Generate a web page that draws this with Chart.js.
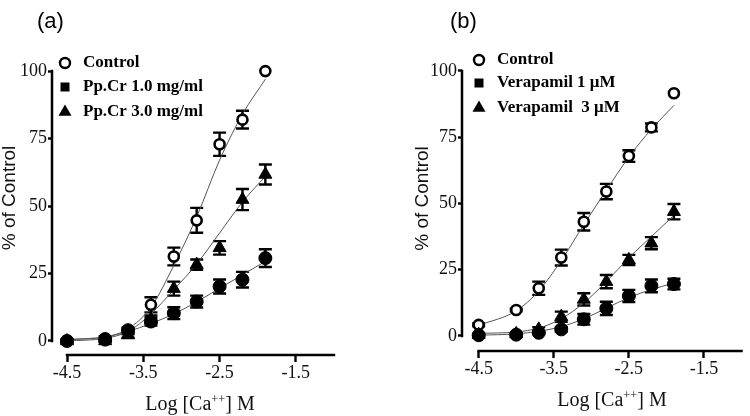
<!DOCTYPE html>
<html><head><meta charset="utf-8">
<script src="https://cdn.jsdelivr.net/npm/chart.js@4.4.1/dist/chart.umd.min.js"></script>
<style>
html,body{margin:0;padding:0;background:#fff;}
#wrap{position:relative;width:750px;height:416px;overflow:hidden;background:#fff;}
canvas{position:absolute;top:0;}
.ptitle{position:absolute;font-family:'Liberation Sans',Arial,sans-serif;font-size:22px;line-height:22px;color:#000;white-space:nowrap;}
.xtitle{position:absolute;width:200px;text-align:center;font-family:'Liberation Serif','Times New Roman',serif;font-size:20px;line-height:20px;color:#111;white-space:nowrap;}
.xtitle sup{font-size:0.62em;line-height:0;vertical-align:0.55em;}
</style></head>
<body><div id="wrap">
<canvas id="ca" width="375" height="416" style="left:0px"></canvas>
<canvas id="cb" width="375" height="416" style="left:375px"></canvas>
<div class="ptitle" style="left:37px;top:10px">(a)</div>
<div class="ptitle" style="left:450px;top:10px">(b)</div>
<div class="xtitle" style="left:100px;top:393px">Log [Ca<sup>++</sup>] M</div>
<div class="xtitle" style="left:512px;top:389px">Log [Ca<sup>++</sup>] M</div>
</div>
<script>
// ---------- data ----------
const logCa = [-4.5, -4.0, -3.7, -3.4, -3.1, -2.8, -2.5, -2.2, -1.9];
const xTickValues = [-4.5, -3.5, -2.5, -1.5];
const yTickValues = [0, 25, 50, 75, 100];
const xAxisSpan = [-4.5, -1.0];
const yAxisSpan = [0, 100];
const yAxisTitle = '% of Control';

// Panel (a)
const aLabels = ['Control', 'Pp.Cr 1.0 mg/ml', 'Pp.Cr 3.0 mg/ml'];
const aControl    = [0, 1, 3.5, 13.4, 31.3, 44.7, 72.9, 82, 100];
const aControlErr = [0.5, 0.8, 1, 2.8, 3.3, 4.6, 4.3, 3.3, 0];
const aControlFit = [0.5, 1.5, 4.5, 12.5, 28, 46, 67, 84, 97];
const aPp1    = [0, 0.5, 4, 7.2, 10.3, 14.6, 20.2, 22.7, 30.7];
const aPp1Err = [0.5, 0.8, 1, 1.5, 2.2, 2.2, 2.6, 2.9, 3.3];
const aPp1Fit = [0.5, 1.5, 3.5, 6.5, 10, 14.5, 19.5, 24.5, 29.5];
const aPp3    = [0, 0, 2.2, 8, 19.4, 28.3, 34.5, 52.4, 61.7];
const aPp3Err = [0.5, 0.5, 1, 1.5, 2.6, 1.9, 2.5, 3.9, 3.7];
const aPp3Fit = [0, 1, 3.5, 10, 19, 28.5, 40, 51.5, 61];

// Panel (b)
const bLabels = ['Control', 'Verapamil 1 \u03BCM', 'Verapamil  3 \u03BCM'];
const bControl    = [4.2, 9.8, 18, 29.6, 43.1, 54.5, 67.9, 78.7, 91.6];
const bControlErr = [0.5, 0.5, 2.5, 3, 3.3, 2.9, 2.2, 1.5, 0];
const bControlFit = [4, 9.5, 17, 28.5, 42, 55, 67.5, 78, 87];
const bVer1    = [0.3, 0.5, 1.2, 2.5, 6.3, 10.4, 15.1, 18.9, 19.6];
const bVer1Err = [0.3, 0.3, 0.5, 0.8, 2, 2.5, 2.3, 2.4, 2];
const bVer1Fit = [0.3, 0.8, 1.8, 3.5, 6.5, 10.5, 14.5, 17.5, 20];
const bVer3    = [0.5, 0.8, 2.5, 7.3, 13.8, 20.5, 28.7, 35, 46.9];
const bVer3Err = [0.3, 0.3, 0.8, 1.9, 2.3, 2.5, 1.9, 2.3, 2.9];
const bVer3Fit = [1, 1.5, 3, 6.5, 12.5, 20.5, 29.5, 37.5, 45.5];

// ---------- helpers ----------
const SERIF = "'Liberation Serif','Times New Roman',serif";
const SANS = "'Liberation Sans',Arial,sans-serif";
const pts = arr => logCa.map((x, i) => ({x: x, y: arr[i]}));

const markerStyles = [
  {pointStyle: 'circle', radius: 5, bg: '#ffffff', bw: 2.6},
  {pointStyle: 'circle', radius: 6.5, bg: '#000000', bw: 1},
  {pointStyle: 'triangle', radius: 7.5, bg: '#000000', bw: 1}
];

function drawMarker(ctx, style, x, y, r, fill, bw) {
  ctx.save();
  ctx.fillStyle = fill; ctx.strokeStyle = '#000'; ctx.lineWidth = bw;
  ctx.beginPath();
  if (style === 'circle') {
    ctx.arc(x, y, r, 0, Math.PI * 2);
  } else if (style === 'rect') {
    ctx.rect(x - r, y - r, 2 * r, 2 * r);
  } else if (style === 'triangle') {
    ctx.moveTo(x, y - r);
    ctx.lineTo(x + r * 0.866, y + r * 0.5);
    ctx.lineTo(x - r * 0.866, y + r * 0.5);
    ctx.closePath();
  }
  ctx.fill();
  if (bw > 0) ctx.stroke();
  ctx.restore();
}

const axisLines = {
  id: 'axisLines',
  beforeDatasetsDraw(chart) {
    const {ctx, chartArea, scales: {x, y}} = chart;
    ctx.save();
    ctx.strokeStyle = '#000'; ctx.lineWidth = 2.5; ctx.lineCap = 'square';
    ctx.beginPath();
    ctx.moveTo(chartArea.left, y.getPixelForValue(yAxisSpan[0]));
    ctx.lineTo(chartArea.left, y.getPixelForValue(yAxisSpan[1]));
    ctx.moveTo(x.getPixelForValue(xAxisSpan[0]), chartArea.bottom);
    ctx.lineTo(x.getPixelForValue(xAxisSpan[1]), chartArea.bottom);
    ctx.stroke();
    ctx.restore();
  }
};

const errorBars = {
  id: 'errorBars',
  beforeDatasetsDraw(chart) {
    const {ctx, scales: {x, y}} = chart;
    ctx.save();
    ctx.strokeStyle = '#000'; ctx.lineWidth = 2.4;
    chart.data.datasets.forEach(ds => {
      if (!ds.errorBars) return;
      ds.data.forEach((p, i) => {
        const e = ds.errorBars[i];
        if (!e) return;
        const px = x.getPixelForValue(p.x);
        const yt = y.getPixelForValue(p.y + e);
        const yb = y.getPixelForValue(p.y - e);
        ctx.beginPath();
        ctx.moveTo(px, yt); ctx.lineTo(px, yb);
        ctx.moveTo(px - 6.5, yt); ctx.lineTo(px + 6.5, yt);
        ctx.moveTo(px - 6.5, yb); ctx.lineTo(px + 6.5, yb);
        ctx.stroke();
      });
    });
    ctx.restore();
  }
};

const panelLegend = {
  id: 'panelLegend',
  afterDraw(chart, args, opts) {
    const ctx = chart.ctx;
    ctx.save();
    ctx.font = 'bold 17px ' + SERIF;
    ctx.textBaseline = 'middle';
    ctx.textAlign = 'left';
    ctx.fillStyle = '#000';
    opts.items.forEach((it, i) => {
      const yy = opts.rows[i];
      drawMarker(ctx, it.style, opts.x, yy, it.r, it.fill, it.bw);
      ctx.fillStyle = '#000';
      ctx.fillText(it.label, opts.textX, yy);
    });
    ctx.restore();
  }
};

function seriesSets(labels, values, errs, fits, layerOrder) {
  const sets = [];
  labels.forEach((lab, k) => {
    const st = markerStyles[k];
    sets.push({
      label: lab,
      data: pts(values[k]),
      errorBars: errs[k],
      showLine: false,
      order: layerOrder[k],
      pointStyle: st.pointStyle,
      pointRadius: st.radius,
      pointHoverRadius: st.radius,
      pointBackgroundColor: st.bg,
      pointBorderColor: '#000',
      pointBorderWidth: st.bw,
      clip: false
    });
    sets.push({
      label: lab + ' fit',
      data: pts(fits[k]),
      showLine: true,
      order: 10,
      borderColor: '#555',
      borderWidth: 1,
      pointRadius: 0,
      cubicInterpolationMode: 'monotone',
      clip: false
    });
  });
  return sets;
}

function makeChart(id, cfg) {
  return new Chart(document.getElementById(id), {
    type: 'line',
    data: {datasets: cfg.datasets},
    options: {
      responsive: false,
      animation: false,
      events: [],
      layout: {padding: cfg.padding},
      plugins: {
        legend: {display: false},
        tooltip: {enabled: false},
        panelLegend: cfg.legend
      },
      scales: {
        x: {
          type: 'linear', min: cfg.xMin, max: cfg.xMax,
          afterBuildTicks: s => { s.ticks = xTickValues.map(v => ({value: v})); },
          afterFit: s => { s.height = 30; },
          grid: {drawOnChartArea: false, drawTicks: true, tickLength: 7, tickWidth: 2.4, tickColor: '#000'},
          border: {display: false},
          ticks: {autoSkip: false, maxRotation: 0, minRotation: 0, padding: 0, color: '#111',
                  font: {family: SERIF, size: 18}, callback: v => Number(v).toFixed(1)}
        },
        y: {
          type: 'linear', min: cfg.yMin, max: cfg.yMax,
          afterBuildTicks: s => { s.ticks = yTickValues.map(v => ({value: v})); },
          afterFit: s => { s.width = cfg.yWidth; },
          grid: {drawOnChartArea: false, drawTicks: true, tickLength: 4, tickWidth: 2.4, tickColor: '#000'},
          border: {display: false},
          ticks: {autoSkip: false, padding: 1, color: '#111',
                  font: {family: SERIF, size: 18}, callback: v => String(v)},
          title: {display: true, text: yAxisTitle, color: '#111', padding: 0,
                  font: {family: SANS, size: 19, lineHeight: 1.05}}
        }
      }
    },
    plugins: [axisLines, errorBars, panelLegend]
  });
}

const legendStyles = [
  {style: 'circle', r: 5, fill: '#fff', bw: 2.4},
  {style: 'rect', r: 4.5, fill: '#000', bw: 0},
  {style: 'triangle', r: 7.5, fill: '#000', bw: 0}
];

makeChart('ca', {
  datasets: seriesSets(aLabels, [aControl, aPp1, aPp3], [aControlErr, aPp1Err, aPp3Err],
                       [aControlFit, aPp1Fit, aPp3Fit], [3, 1, 2]),
  padding: {left: 0, top: 41, right: 41, bottom: 31},
  yWidth: 52, xMin: -4.697, xMax: -1.0, yMin: -5.2, yMax: 111.15,
  legend: {x: 65, textX: 83, rows: [63, 87, 112],
           items: aLabels.map((l, i) => Object.assign({label: l}, legendStyles[i]))}
});

makeChart('cb', {
  datasets: seriesSets(bLabels, [bControl, bVer1, bVer3], [bControlErr, bVer1Err, bVer3Err],
                       [bControlFit, bVer1Fit, bVer3Fit], [3, 2, 1]),
  padding: {left: 38, top: 46, right: 3, bottom: 35},
  yWidth: 49, xMin: -4.722, xMax: -1.0, yMin: -5.66, yMax: 109.4,
  legend: {x: 104, textX: 122, rows: [60, 83, 108],
           items: bLabels.map((l, i) => Object.assign({label: l}, legendStyles[i]))}
});
</script>
</body></html>
